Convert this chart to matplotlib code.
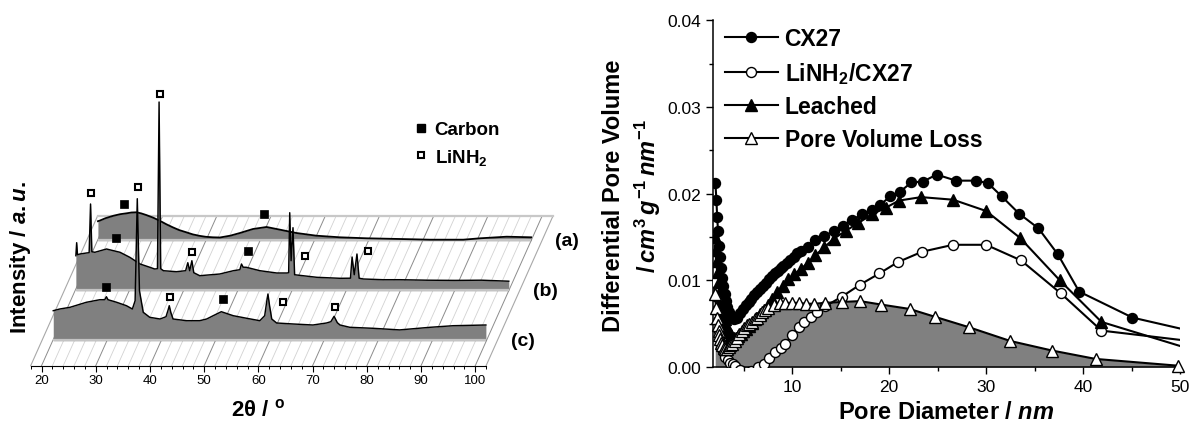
import numpy as np
import matplotlib
matplotlib.use("Agg")
import matplotlib.pyplot as plt
from matplotlib.lines import Line2D
from matplotlib.ticker import MultipleLocator, FormatStrFormatter

plt.rcParams["font.family"] = ["Liberation Sans", "DejaVu Sans"]
plt.rcParams["mathtext.fontset"] = "custom"
plt.rcParams["mathtext.rm"] = "Liberation Sans:bold"
plt.rcParams["mathtext.it"] = "Liberation Sans:italic:bold"
plt.rcParams["mathtext.bf"] = "Liberation Sans:bold"

# ---------------------------------------------------------------- XRD patterns
# 2-theta (deg) and intensity (a.u.) for the three samples
tt_a = [20.1, 20.4, 21.5, 23.0, 24.2, 25.4, 26.3, 27.2, 28.1, 29.0, 30.3, 31.5,
        32.7, 33.9, 35.1, 36.4, 37.6, 38.9, 40.0, 41.3, 42.6, 44.5, 46.3, 48.7,
        51.2, 53.7, 56.7, 60.4, 64.7, 69.7, 75.8, 81.3, 87.5, 90.6, 95.5, 100.0]
I_a = [19.5, 20.0, 22.5, 25.0, 26.5, 27.4, 28.2, 28.4, 27.3, 25.7, 23.0, 20.0,
       16.5, 13.4, 10.6, 8.4, 6.3, 4.8, 3.9, 3.4, 3.2, 5.0, 7.7, 11.7,
       13.7, 11.0, 7.7, 5.0, 3.4, 2.4, 1.7, 1.0, 1.0, 2.4, 4.0, 3.4]

tt_b = [20.15, 20.3, 20.45, 20.9, 22.1, 22.6, 22.86, 23.1, 23.65, 25.8, 28.3,
        30.1, 32.0, 33.8, 34.7, 35.2, 35.5, 35.8, 36.3, 38.7, 40.4, 40.8, 41.15,
        41.55, 41.9, 43.0, 46.7, 49.2, 50.4, 50.7, 51.0, 51.6, 54.1, 57.2, 59.1,
        59.4, 59.6, 59.85, 60.2, 60.5, 60.9, 64.6, 68.9, 70.8, 71.1, 71.5, 72.0,
        72.4, 73.2, 76.8, 79.9, 85.0, 90.0, 95.0, 100.0]
I_b = [35.0, 48.0, 36.0, 36.7, 37.7, 38.0, 86.7, 39.0, 38.4, 41.7, 38.4,
       33.4, 26.7, 23.4, 21.7, 22.0, 188.7, 22.0, 20.0, 19.0, 20.0, 28.0, 20.0,
       30.0, 18.0, 15.0, 16.7, 20.0, 21.0, 26.7, 23.5, 23.4, 20.0, 17.7, 17.7,
       18.0, 78.0, 30.0, 63.0, 16.0, 15.7, 13.4, 12.4, 12.5, 33.7, 16.0, 36.7,
       12.5, 11.7, 11.0, 11.0, 10.5, 10.3, 10.5, 9.5]

tt_c = [20.1, 21.3, 23.2, 26.2, 28.7, 29.6, 29.9, 30.2, 31.8, 33.6, 34.7, 35.2,
        35.6, 36.0, 36.7, 37.9, 39.8, 40.9, 41.3, 41.5, 41.8, 42.2, 44.7, 47.1,
        48.4, 49.6, 51.1, 53.3, 55.8, 58.2, 59.1, 59.5, 59.7, 60.0, 60.4, 61.3,
        64.4, 68.0, 70.5, 71.3, 71.9, 72.5, 73.0, 74.8, 79.1, 84.0, 89.6, 93.9,
        99.9]
I_c = [30.0, 31.7, 33.4, 38.4, 41.0, 41.0, 44.0, 41.0, 38.4, 35.0, 31.7, 40.0,
       142.0, 50.0, 28.4, 23.4, 21.7, 24.0, 31.0, 35.0, 28.0, 21.7, 20.0, 20.0,
       21.7, 25.0, 29.0, 25.0, 22.4, 20.0, 25.0, 40.0, 46.7, 35.0, 21.7, 17.7,
       16.7, 15.7, 17.7, 19.0, 24.4, 18.0, 15.7, 13.4, 12.4, 10.8, 13.4, 15.0,
       15.7]

# phase markers (2-theta, intensity) for each pattern
carbon_a = ([24.9, 50.7], [36.7, 26.7])
carbon_b = ([27.5, 51.9], [52.4, 40.0])
amide_b = ([22.9, 35.6, 41.6, 62.4, 74.0], [97.7, 196.7, 38.7, 35.0, 40.0])
carbon_c = ([29.9, 51.4], [53.4, 41.7])
amide_c = ([35.8, 41.6, 62.4, 72.0], [153.4, 44.0, 38.4, 33.4])

pattern_labels = ["(a)", "(b)", "(c)"]
tt_ticks = [20, 30, 40, 50, 60, 70, 80, 90, 100]

# ------------------------------------------------------ pore size distribution
d_cx27 = [2.08, 2.18, 2.26, 2.35, 2.45, 2.55, 2.66, 2.78, 2.90, 3.03, 3.17, 3.32,
          3.48, 3.65, 3.83, 4.02, 4.30, 4.60, 4.90, 5.20, 5.50, 5.80, 6.10, 6.40,
          6.70, 7.00, 7.30, 7.60, 7.90, 8.20, 8.50, 8.80, 9.10, 9.45, 9.80, 10.15,
          10.5, 10.9, 11.6, 12.4, 13.3, 14.3, 15.2, 16.2, 17.2, 18.2, 19.1, 20.1,
          21.1, 22.3, 23.5, 24.9, 26.9, 29.0, 30.2, 31.6, 33.4, 35.4, 37.4, 39.6,
          45.1, 52.5]
v_cx27 = [0.0212, 0.0193, 0.0173, 0.0157, 0.0140, 0.0127, 0.0114, 0.0103, 0.0093,
          0.0084, 0.0076, 0.0069, 0.0063, 0.0059, 0.0056, 0.0055, 0.0057, 0.0062,
          0.0067, 0.0071, 0.0075, 0.0079, 0.0083, 0.0087, 0.0090, 0.0094, 0.0097,
          0.0101, 0.0105, 0.0108, 0.0111, 0.0114, 0.0117, 0.0120, 0.0123, 0.0127,
          0.0131, 0.0134, 0.0139, 0.0146, 0.0151, 0.0157, 0.0163, 0.0170, 0.0176,
          0.0181, 0.0187, 0.0197, 0.0202, 0.0213, 0.0214, 0.0222, 0.0215, 0.0215,
          0.0212, 0.0197, 0.0177, 0.0160, 0.0130, 0.0087, 0.0057, 0.0038]

d_li = [1.90, 2.05, 2.20, 2.35, 2.50, 2.63, 2.75, 2.90, 3.10, 3.35, 3.60, 3.85,
        4.10, 4.60, 5.20, 5.80, 6.50, 7.05, 7.60, 8.25, 8.80, 9.30, 9.97, 10.65,
        11.25, 11.9, 12.6, 13.4, 15.1, 17.0, 19.0, 20.9, 23.4, 26.6, 30.0, 33.6,
        37.7, 41.9, 52.5]
v_li = [0.0098, 0.0082, 0.0066, 0.0053, 0.0042, 0.0033, 0.0025, 0.0018, 0.0012,
        0.0008, 0.0005, 0.0003, 0.0001, -0.0004, -0.0007, -0.0005, 0.0000, 0.0003,
        0.0010, 0.0017, 0.0022, 0.0027, 0.0037, 0.0046, 0.0052, 0.0058, 0.0064,
        0.0070, 0.0081, 0.0095, 0.0108, 0.0121, 0.0133, 0.0141, 0.0141, 0.0123,
        0.0085, 0.0042, 0.0028]

d_leach = [2.08, 2.18, 2.26, 2.35, 2.45, 2.55, 2.66, 2.78, 2.90, 3.03, 3.17, 3.32,
           3.48, 3.65, 3.83, 4.02, 4.22, 4.45, 4.70, 4.97, 5.26, 5.57, 5.90, 6.25,
           6.63, 7.04, 7.48, 7.95, 8.45, 9.00, 9.60, 10.2, 10.9, 11.6, 12.4, 13.3,
           14.3, 15.5, 16.8, 18.2, 19.7, 21.0, 23.3, 26.6, 30.0, 33.5, 37.6, 41.9,
           53.0]
v_leach = [0.0150, 0.0135, 0.0122, 0.0110, 0.0098, 0.0088, 0.0079, 0.0070, 0.0062,
           0.0055, 0.0049, 0.0044, 0.0040, 0.0037, 0.0035, 0.0034, 0.0034, 0.0036,
           0.0038, 0.0041, 0.0044, 0.0047, 0.0051, 0.0056, 0.0061, 0.0066, 0.0072,
           0.0079, 0.0086, 0.0094, 0.0101, 0.0107, 0.0113, 0.0120, 0.0129, 0.0138,
           0.0148, 0.0157, 0.0166, 0.0176, 0.0184, 0.0192, 0.0196, 0.0193, 0.0180,
           0.0149, 0.0100, 0.0052, 0.0014]

d_loss = [2.06, 2.15, 2.24, 2.32, 2.40, 2.49, 2.58, 2.68, 2.80, 2.94, 3.10, 3.27,
          3.45, 3.62, 3.80, 4.05, 4.30, 4.55, 4.80, 5.05, 5.30, 5.58, 5.85, 6.12,
          6.40, 6.65, 6.90, 7.20, 7.55, 8.10, 8.70, 9.30, 9.95, 10.65, 11.40, 12.30,
          13.40, 15.10, 17.00, 19.20, 22.10, 24.70, 28.20, 32.50, 36.80, 41.30, 49.80]
v_loss = [0.0084, 0.0068, 0.0056, 0.0049, 0.0042, 0.0037, 0.0032, 0.0028, 0.0025,
          0.0022, 0.0021, 0.0021, 0.0023, 0.0025, 0.0027, 0.0030, 0.0034, 0.0038,
          0.0042, 0.0045, 0.0048, 0.0050, 0.0052, 0.0055, 0.0057, 0.0060, 0.0063,
          0.0066, 0.0068, 0.0072, 0.0074, 0.0074, 0.0074, 0.0074, 0.0073, 0.0073,
          0.0074, 0.0075, 0.0076, 0.0072, 0.0067, 0.0058, 0.0046, 0.0030, 0.0019,
          0.00093, 0.00015]

# ---------------------------------------------------------------------- figure
W, H = 1193, 431
fig = plt.figure(figsize=(W / 100, H / 100), dpi=100)


def box(x0, y0, x1, y1):
    """Pixel box (origin top-left) to a figure-fraction rectangle."""
    return [x0 / W, 1 - y1 / H, (x1 - x0) / W, (y1 - y0) / H]


GREY = "#808080"

# ------------------------------------------------ left: stacked XRD waterfall
axL = fig.add_axes(box(30.7, 60, 486.1, 366.7))
axL.set_xlim(18, 102)
axL.set_ylim(0, 306.7)
DX, DY = 4.12, 50.0      # oblique shift of one depth unit (deg, a.u.)
DEPTH = 3

for s in ("left", "right", "top"):
    axL.spines[s].set_visible(False)
axL.spines["bottom"].set_linewidth(0.8)
axL.set_yticks([])
axL.xaxis.set_major_locator(MultipleLocator(10))
axL.xaxis.set_minor_locator(MultipleLocator(2))
axL.tick_params(axis="x", which="major", direction="out", length=4, width=0.8,
                labelsize=9.5, pad=2)
axL.tick_params(axis="x", which="minor", direction="out", length=2.5, width=0.7)
axL.set_xticks(tt_ticks)

# floor grid running back in depth
xmin, xmax = axL.get_xlim()
for g in np.arange(xmin, xmax + 0.1, 2):
    if g in (xmin, xmax):
        col, lw = "#a8a8a8", 0.8
    elif g % 10 == 0:
        col, lw = "#8c8c8c", 0.7
    else:
        col, lw = "#d2d2d2", 0.6
    axL.plot([g, g + DEPTH * DX], [0, DEPTH * DY], color=col, lw=lw,
             zorder=1, clip_on=False)
axL.plot([xmin + DEPTH * DX, xmax + DEPTH * DX], [DEPTH * DY] * 2,
         color="#c8c8c8", lw=1.6, zorder=1, clip_on=False)

patterns = [(2.5, tt_a, I_a, 1.3, carbon_a, None),
            (1.5, tt_b, I_b, 1.05, carbon_b, amide_b),
            (0.5, tt_c, I_c, 1.05, carbon_c, amide_c)]
for k, (z, tt, inten, lw, carb, amid) in enumerate(patterns):
    X = np.asarray(tt) + z * DX
    Y = np.asarray(inten) + z * DY
    base = z * DY
    zo = 2 + 3 * k
    axL.fill_between(X, base, Y, color=GREY, lw=0, zorder=zo, clip_on=False)
    axL.plot([X[0], X[-1]], [base + 0.8, base + 0.8], color="#c4c4c4", lw=1.6,
             zorder=zo + 0.5, clip_on=False, solid_capstyle="butt")
    axL.plot(X, Y, color="k", lw=lw, zorder=zo + 1, clip_on=False)
    axL.plot(np.asarray(carb[0]) + z * DX, np.asarray(carb[1]) + z * DY,
             ls="none", marker="s", ms=5.6, mfc="k", mec="k", mew=0.5,
             zorder=20, clip_on=False)
    if amid is not None:
        axL.plot(np.asarray(amid[0]) + z * DX, np.asarray(amid[1]) + z * DY,
                 ls="none", marker="s", ms=4.0, mfc="w", mec="k", mew=1.5,
                 zorder=20, clip_on=False)
    axL.text(xmax + z * DX + 2.5, base, pattern_labels[k], ha="left",
             va="center", fontsize=14, fontweight="bold", clip_on=False)

leg_handles = [Line2D([], [], ls="none", marker="s", ms=5.6, mfc="k", mec="k"),
               Line2D([], [], ls="none", marker="s", ms=4.0, mfc="w", mec="k",
                      mew=1.5)]
axL.legend(leg_handles, ["Carbon", "LiNH$_2$"], loc="upper left",
           bbox_to_anchor=(414 / W, 1 - 122 / H), bbox_transform=fig.transFigure,
           frameon=False, prop={"weight": "bold", "size": 13.5},
           handlelength=0.7, handletextpad=0.4, labelspacing=0.45,
           borderaxespad=0, borderpad=0)

fig.text(21 / W, 1 - 258 / H, "Intensity / $\\mathit{a.u.}$", rotation=90,
         ha="center", va="center", fontsize=16, fontweight="bold")
fig.text(258 / W, 1 - 410 / H, "2θ / $^{\\mathrm{o}}$", ha="center",
         va="center", fontsize=16, fontweight="bold")

# ---------------------------------------------- right: pore size distribution
axR = fig.add_axes(box(712.7, 21.3, 1180, 368))
axR.set_xlim(1.8, 50)
axR.set_ylim(0, 0.04)
for s in ("right", "top"):
    axR.spines[s].set_visible(False)
for s in ("left", "bottom"):
    axR.spines[s].set_linewidth(1.1)
axR.xaxis.set_major_locator(MultipleLocator(10))
axR.xaxis.set_minor_locator(MultipleLocator(5))
axR.yaxis.set_major_locator(MultipleLocator(0.01))
axR.yaxis.set_minor_locator(MultipleLocator(0.005))
axR.yaxis.set_major_formatter(FormatStrFormatter("%.2f"))
axR.tick_params(which="major", direction="out", length=5, width=1.0,
                labelsize=12.5)
axR.tick_params(which="minor", direction="out", length=3, width=1.0)

CIRC, TRI = 7.2, 8.2
axR.fill_between(d_loss, 0, v_loss, color=GREY, lw=0, zorder=1)
line_kw = dict(color="k", lw=1.5, mec="k", mew=1.0)
axR.plot(d_cx27, v_cx27, marker="o", ms=CIRC, mfc="k", zorder=3, **line_kw)
axR.plot(d_li, v_li, marker="o", ms=CIRC, mfc="w", zorder=4, **line_kw)
axR.plot(d_leach, v_leach, marker="^", ms=TRI, mfc="k", zorder=5, **line_kw)
axR.plot(d_loss, v_loss, marker="^", ms=TRI, mfc="w", zorder=6, clip_on=False,
         **line_kw)

psd_handles = [Line2D([], [], marker="o", ms=CIRC, mfc="k", **line_kw),
               Line2D([], [], marker="o", ms=CIRC, mfc="w", **line_kw),
               Line2D([], [], marker="^", ms=TRI, mfc="k", **line_kw),
               Line2D([], [], marker="^", ms=TRI, mfc="w", **line_kw)]
axR.legend(psd_handles, ["CX27", "LiNH$_2$/CX27", "Leached", "Pore Volume Loss"],
           loc="upper left", bbox_to_anchor=(725 / W, 1 - 28 / H),
           bbox_transform=fig.transFigure, frameon=False,
           prop={"weight": "bold", "size": 16.5}, handlelength=2.3,
           handletextpad=0.3, labelspacing=0.42, borderaxespad=0, borderpad=0)

fig.text(613 / W, 1 - 196 / H, "Differential Pore Volume", rotation=90,
         ha="center", va="center", fontsize=17, fontweight="bold")
fig.text(648 / W, 1 - 196 / H,
         "$\\mathit{/\\,cm^{3}\\,g^{-1}\\,nm^{-1}}$", rotation=90,
         ha="center", va="center", fontsize=17)
fig.text(946 / W, 1 - 413 / H, "Pore Diameter / $\\mathit{nm}$", ha="center",
         va="center", fontsize=17, fontweight="bold")

fig.savefig("out.png", dpi=100)
